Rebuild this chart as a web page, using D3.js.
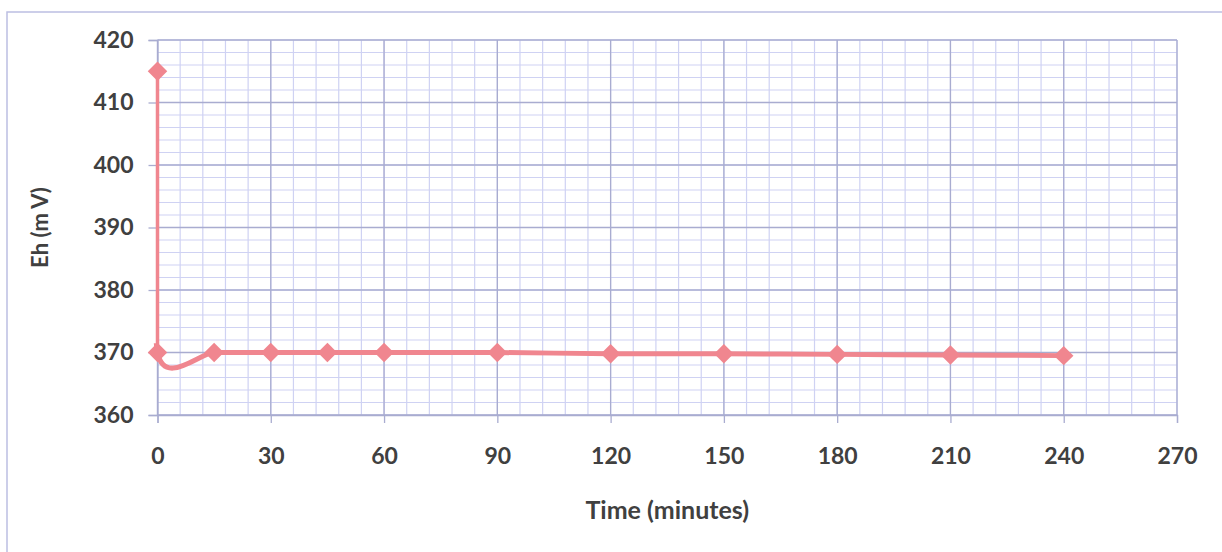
<!DOCTYPE html>
<html>
<head>
<meta charset="utf-8">
<script src="https://cdn.jsdelivr.net/npm/d3@7"></script>
<style>
  body { margin: 0; background: #fff; }
  svg { display: block; }
  text { font-family: Lato, "Open Sans", sans-serif; font-weight: bold; fill: #404040; }
</style>
</head>
<body>
<div id="chart"></div>
<script>
const times = [0, 0, 15, 30, 45, 60, 90, 120, 150, 180, 210, 240];
const eh = [415, 370, 370, 370, 370, 370, 370, 369.8, 369.8, 369.7, 369.6, 369.5];
const xTicks = [0, 30, 60, 90, 120, 150, 180, 210, 240, 270];
const yTicks = [360, 370, 380, 390, 400, 410, 420];

const W = 1222, H = 552;
const plotLeft = 157.5, plotRight = 1177, plotTop = 40, plotBottom = 415;

const svg = d3.select("#chart").append("svg")
    .attr("width", W).attr("height", H);

// chart area border
svg.append("rect")
    .attr("x", 7).attr("y", 12)
    .attr("width", W + 10).attr("height", H + 10)
    .attr("fill", "none").attr("stroke", "#bcbfe2").attr("stroke-width", 1.5);

const x = d3.scaleLinear().domain([0, 270]).range([plotLeft, plotRight]);
const y = d3.scaleLinear().domain([360, 420]).range([plotBottom, plotTop]);

// minor grid
svg.append("g")
    .selectAll("line")
    .data(d3.range(0, 271, 6))
    .join("line")
    .attr("x1", d => x(d)).attr("x2", d => x(d))
    .attr("y1", plotTop).attr("y2", plotBottom)
    .attr("stroke", "#cfd2f3").attr("stroke-width", 1.2);
svg.append("g")
    .selectAll("line")
    .data(d3.range(360, 421, 2))
    .join("line")
    .attr("x1", plotLeft).attr("x2", plotRight)
    .attr("y1", d => y(d)).attr("y2", d => y(d))
    .attr("stroke", "#cfd2f3").attr("stroke-width", 1.2);

// major grid
svg.append("g")
    .selectAll("line")
    .data(xTicks)
    .join("line")
    .attr("x1", d => x(d)).attr("x2", d => x(d))
    .attr("y1", plotTop).attr("y2", plotBottom)
    .attr("stroke", "#a9acd0").attr("stroke-width", 1.3);
svg.append("g")
    .selectAll("line")
    .data(yTicks)
    .join("line")
    .attr("x1", plotLeft).attr("x2", plotRight)
    .attr("y1", d => y(d)).attr("y2", d => y(d))
    .attr("stroke", "#a9acd0").attr("stroke-width", 1.3);

// axes
const xAxis = svg.append("g")
    .attr("transform", `translate(0,${plotBottom})`)
    .call(d3.axisBottom(x).tickValues(xTicks).tickSize(8).tickPadding(25));
const yAxis = svg.append("g")
    .attr("transform", `translate(${plotLeft},0)`)
    .call(d3.axisLeft(y).tickValues(yTicks).tickSize(9).tickPadding(15));
[xAxis, yAxis].forEach(a => {
    a.selectAll("path, line").attr("stroke", "#a9acd0").attr("stroke-width", 1.3);
    a.selectAll("text").style("font-size", "23px").attr("fill", "#404040");
});

// series: straight drop at t=0, smoothed line afterwards
const pts = times.map((t, i) => [t, eh[i]]);
const smooth = d3.line()
    .x(d => x(d[0])).y(d => y(d[1]))
    .curve(d3.curveCardinal.tension(0.25));
const straight = d3.line()
    .x(d => x(d[0])).y(d => y(d[1]));

svg.append("clipPath").attr("id", "below")
    .append("rect")
    .attr("x", 0).attr("y", y(371.5))
    .attr("width", W).attr("height", H);

svg.append("path")
    .datum(pts.slice(0, 2))
    .attr("d", straight)
    .attr("fill", "none")
    .attr("stroke", "#f0868f")
    .attr("stroke-width", 3.5);
svg.append("path")
    .datum(pts)
    .attr("d", smooth)
    .attr("clip-path", "url(#below)")
    .attr("fill", "none")
    .attr("stroke", "#f0868f")
    .attr("stroke-width", 5);

svg.append("g")
    .selectAll("path")
    .data(pts)
    .join("path")
    .attr("transform", d => `translate(${x(d[0])},${y(d[1])}) rotate(45)`)
    .attr("d", d3.symbol(d3.symbolSquare, 190))
    .attr("fill", "#f0868f");

// titles
svg.append("text")
    .attr("x", (plotLeft + plotRight) / 2).attr("y", 519)
    .attr("text-anchor", "middle")
    .style("font-size", "25px")
    .text("Time (minutes)");
svg.append("text")
    .attr("transform", `translate(48,${(plotTop + plotBottom) / 2}) rotate(-90)`)
    .attr("text-anchor", "middle")
    .style("font-size", "22px")
    .text("Eh (m V)");
</script>
</body>
</html>
